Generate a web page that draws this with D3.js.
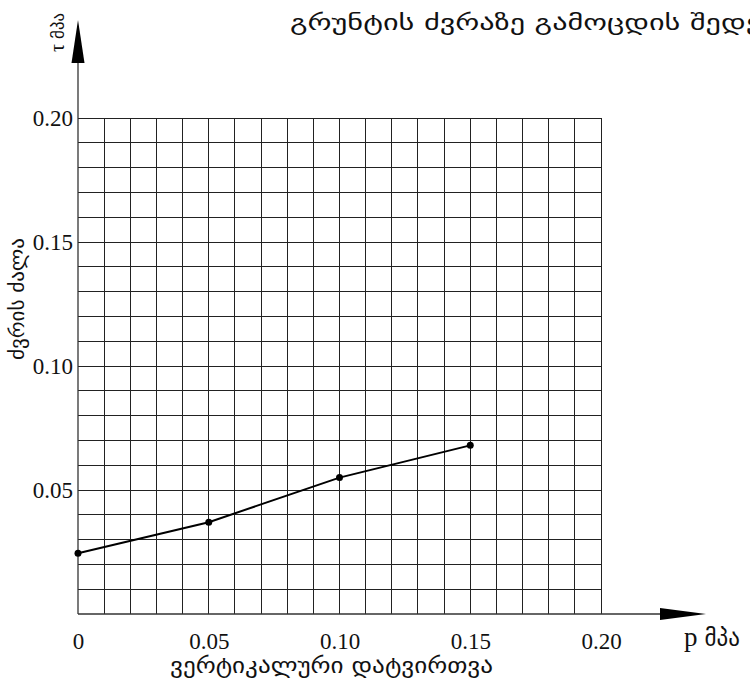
<!DOCTYPE html>
<html>
<head>
<meta charset="utf-8">
<script src="https://cdn.jsdelivr.net/npm/d3@7"></script>
<style>
  html, body { margin: 0; padding: 0; background: #fff; }
  svg { display: block; }
</style>
</head>
<body>
<svg id="chart" width="750" height="683"></svg>
<script>
// ---- data ----
const pValues = [0, 0.05, 0.10, 0.15];            // vertical load, MPa
const tauValues = [0.0245, 0.037, 0.055, 0.068];   // shear strength, MPa
const xTickValues = [0, 0.05, 0.10, 0.15, 0.20];
const xTickLabels = ["0", "0.05", "0.10", "0.15", "0.20"];
const yTickValues = [0.05, 0.10, 0.15, 0.20];
const yTickLabels = ["0.05", "0.10", "0.15", "0.20"];
const gridStep = 0.01;
const titleText = "გრუნტის ძვრაზე გამოცდის შედეგები";
const titleVisiblePrefix = "გრუნტის ძვრაზე გამოცდის ";
const xAxisTitle = "ვერტიკალური დატვირთვა";
const yAxisTitle = "ძვრის ძალა";
const xUnitSymbol = "p";
const yUnitSymbol = "τ";
const unitText = "მპა";

// ---- layout ----
const svg = d3.select("#chart");
const x = d3.scaleLinear().domain([0, 0.2]).range([78, 601]);
const y = d3.scaleLinear().domain([0, 0.2]).range([614, 118]);
const geoFont = "'DejaVu Sans', 'Noto Sans', sans-serif";
const numFont = "'Liberation Serif', 'Times New Roman', 'DejaVu Serif', serif";

const gridVals = d3.range(0, 0.2 + 1e-9, gridStep);

function fitText(sel, width) {
  sel.attr("textLength", width).attr("lengthAdjust", "spacingAndGlyphs");
}

// grid
const grid = svg.append("g").attr("stroke", "#222").attr("stroke-width", 1).attr("shape-rendering", "crispEdges");
grid.selectAll("line.v").data(gridVals.slice(1)).join("line")
  .attr("x1", d => x(d)).attr("x2", d => x(d))
  .attr("y1", y(0)).attr("y2", y(0.2));
grid.selectAll("line.h").data(gridVals.slice(1)).join("line")
  .attr("x1", x(0)).attr("x2", x(0.2))
  .attr("y1", d => y(d)).attr("y2", d => y(d));

// axes lines
svg.append("line").attr("x1", x(0)).attr("x2", 662).attr("y1", y(0)).attr("y2", y(0))
  .attr("stroke", "#333").attr("stroke-width", 1.3);
svg.append("line").attr("x1", x(0)).attr("x2", x(0)).attr("y1", y(0)).attr("y2", 60)
  .attr("stroke", "#333").attr("stroke-width", 1.3);
// arrowheads
svg.append("path").attr("d", `M${x(0)},20 L${x(0) + 6.5},63 L${x(0) - 6.5},63 Z`).attr("fill", "#000");
svg.append("path").attr("d", `M706,${y(0)} L660,${y(0) - 6} L660,${y(0) + 6} Z`).attr("fill", "#000");

// y tick labels via axis
const yAxis = d3.axisLeft(y).tickValues(yTickValues).tickFormat((d, i) => yTickLabels[i]).tickSize(0).tickPadding(5);
const gy = svg.append("g").attr("transform", `translate(${x(0)},0)`).call(yAxis);
gy.attr("font-family", null).attr("font-size", null);
gy.select(".domain").remove();
gy.selectAll("text").style("font-family", numFont).style("font-size", "23px").attr("fill", "#111");

// x tick labels via axis
const xAxis = d3.axisBottom(x).tickValues(xTickValues).tickFormat((d, i) => xTickLabels[i]).tickSize(0).tickPadding(19);
const gx = svg.append("g").attr("transform", `translate(0,${y(0)})`).call(xAxis);
gx.attr("font-family", null).attr("font-size", null);
gx.select(".domain").remove();
gx.selectAll("text").style("font-family", numFont).style("font-size", "23px").attr("fill", "#111");

// data line
const pts = pValues.map((p, i) => [p, tauValues[i]]);
svg.append("path").datum(pts)
  .attr("d", d3.line().x(d => x(d[0])).y(d => y(d[1])))
  .attr("fill", "none").attr("stroke", "#000").attr("stroke-width", 2);
svg.selectAll("circle.pt").data(pts).join("circle")
  .attr("cx", d => x(d[0])).attr("cy", d => y(d[1])).attr("r", 3.5).attr("fill", "#000");

// title (runs off the right edge like the reference)
const probe = svg.append("text").style("font-family", geoFont).style("font-size", "22px")
  .text(titleVisiblePrefix.replace(/ $/, "\u00a0"));
const prefixW = probe.node().getComputedTextLength();
probe.text(titleText);
const fullW = probe.node().getComputedTextLength();
probe.remove();
const title = svg.append("text").attr("x", 290).attr("y", 30)
  .style("font-family", geoFont).style("font-size", "22px").attr("fill", "#111")
  .text(titleText);
fitText(title, fullW * 400 / prefixW);

// x axis title
const xt = svg.append("text").attr("x", 170).attr("y", 673)
  .style("font-family", geoFont).style("font-size", "21px").attr("fill", "#111")
  .text(xAxisTitle);
fitText(xt, 323);

// y axis title (rotated)
const yt = svg.append("text").attr("transform", "translate(24,360) rotate(-90)")
  .style("font-family", geoFont).style("font-size", "20px").attr("fill", "#111")
  .text(yAxisTitle);
fitText(yt, 122);

// units
const xu = svg.append("text").attr("x", 684).attr("y", 646).attr("fill", "#111");
xu.append("tspan").style("font-family", numFont).style("font-size", "27px").text(xUnitSymbol);
xu.append("tspan").attr("dx", 7).style("font-family", geoFont).style("font-size", "23px").text(unitText);
const yu = svg.append("text").attr("transform", "translate(64,52) rotate(-90)").attr("fill", "#111");
yu.append("tspan").style("font-family", numFont).style("font-size", "20px").text(yUnitSymbol);
yu.append("tspan").attr("dx", 5).style("font-family", geoFont).style("font-size", "17px").text(unitText);
</script>
</body>
</html>
